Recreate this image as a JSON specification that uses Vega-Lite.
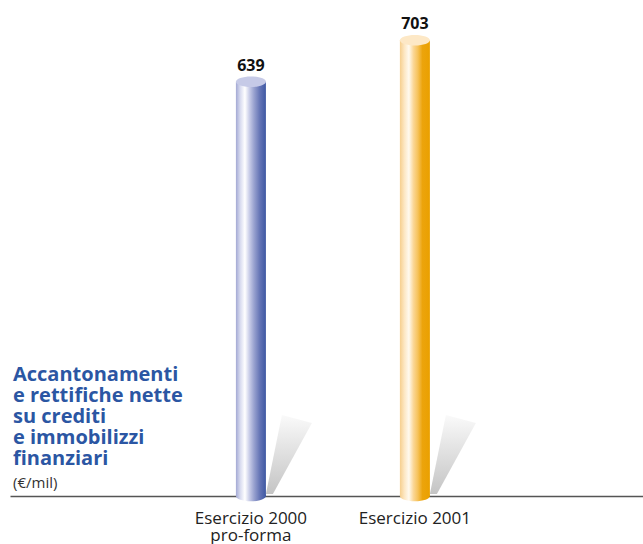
{
  "$schema": "https://vega.github.io/schema/vega-lite/v6.json",
  "width": 633,
  "height": 496,
  "autosize": {"type": "none"},
  "padding": {"left": 10, "top": 0, "right": 0, "bottom": 48},
  "background": "white",
  "config": {"view": {"stroke": null}, "font": "Open Sans"},
  "title": {
    "text": ["Accantonamenti", "e rettifiche nette", "su crediti", "e immobilizzi", "finanziari"],
    "subtitle": "(€/mil)",
    "anchor": "start",
    "frame": "group",
    "orient": "top",
    "font": "Open Sans",
    "fontSize": 20,
    "fontWeight": "bold",
    "color": "#2b56a3",
    "lineHeight": 21,
    "subtitleFont": "Open Sans",
    "subtitleFontSize": 15,
    "subtitleColor": "#333333",
    "subtitleFontWeight": "normal",
    "subtitlePadding": 7,
    "offset": 0,
    "dx": 3,
    "dy": 491
  },
  "data": {
    "values": [
      {"periodo": "Esercizio 2000|pro-forma", "valore": 639},
      {"periodo": "Esercizio 2001", "valore": 703}
    ]
  },
  "encoding": {
    "x": {
      "field": "periodo",
      "type": "nominal",
      "sort": null,
      "scale": {"type": "band", "paddingInner": 0, "paddingOuter": 0.93, "align": 0.521},
      "axis": {
        "title": null,
        "labelExpr": "split(datum.label, '|')",
        "labelAngle": 0,
        "labelFont": "Open Sans",
        "labelFontSize": 17,
        "labelColor": "#222222",
        "labelPadding": 14,
        "labelBaseline": "top",
        "labelLineHeight": 17,
        "ticks": false,
        "grid": false,
        "domainColor": "#555555",
        "domainWidth": 1.5
      }
    },
    "y": {
      "field": "valore",
      "type": "quantitative",
      "scale": {"domain": [0, 765]},
      "axis": null
    }
  },
  "layer": [
    {
      "mark": {
        "type": "point",
        "filled": true,
        "opacity": 1,
        "size": 40000,
        "shape": "M0.15,-0.02 L0.31,-0.81 L0.61,-0.73 L0.22,-0.02 Z",
        "color": {
          "gradient": "linear",
          "x1": 0, "y1": 0, "x2": 0, "y2": 1,
          "stops": [
            {"offset": 0, "color": "#fafafa"},
            {"offset": 1, "color": "#c4c4c4"}
          ]
        }
      },
      "encoding": {"y": {"datum": 0}}
    },
    {
      "transform": [{"filter": "datum.valore == 639"}],
      "layer": [
        {
          "mark": {
            "type": "point",
            "filled": true,
            "opacity": 1,
            "size": 900,
            "shape": "M-1,0 A1,0.35 0 1,1 1,0 A1,0.35 0 1,1 -1,0 Z",
            "color": {
              "gradient": "linear",
              "x1": 0, "y1": 0, "x2": 1, "y2": 0,
              "stops": [
                {"offset": 0, "color": "#a3a9d4"},
                {"offset": 0.15, "color": "#d9dcf0"},
                {"offset": 0.3, "color": "#ffffff"},
                {"offset": 0.45, "color": "#c9cde8"},
                {"offset": 0.6, "color": "#9aa3d0"},
                {"offset": 0.8, "color": "#6474b5"},
                {"offset": 1, "color": "#3e58a3"}
              ]
            }
          },
          "encoding": {"y": {"datum": 0}}
        },
        {
          "mark": {
            "type": "bar",
            "size": 30,
            "color": {
              "gradient": "linear",
              "x1": 0, "y1": 0, "x2": 1, "y2": 0,
              "stops": [
                {"offset": 0, "color": "#a3a9d4"},
                {"offset": 0.15, "color": "#d9dcf0"},
                {"offset": 0.3, "color": "#ffffff"},
                {"offset": 0.45, "color": "#c9cde8"},
                {"offset": 0.6, "color": "#9aa3d0"},
                {"offset": 0.8, "color": "#6474b5"},
                {"offset": 1, "color": "#3e58a3"}
              ]
            }
          }
        }
      ]
    },
    {
      "transform": [{"filter": "datum.valore == 703"}],
      "layer": [
        {
          "mark": {
            "type": "point",
            "filled": true,
            "opacity": 1,
            "size": 900,
            "shape": "M-1,0 A1,0.35 0 1,1 1,0 A1,0.35 0 1,1 -1,0 Z",
            "color": {
              "gradient": "linear",
              "x1": 0, "y1": 0, "x2": 1, "y2": 0,
              "stops": [
                {"offset": 0, "color": "#f6cf8e"},
                {"offset": 0.15, "color": "#fde7c3"},
                {"offset": 0.3, "color": "#fffaf0"},
                {"offset": 0.45, "color": "#fbd797"},
                {"offset": 0.6, "color": "#f6c25a"},
                {"offset": 0.75, "color": "#eca40c"},
                {"offset": 1, "color": "#eaa000"}
              ]
            }
          },
          "encoding": {"y": {"datum": 0}}
        },
        {
          "mark": {
            "type": "bar",
            "size": 30,
            "color": {
              "gradient": "linear",
              "x1": 0, "y1": 0, "x2": 1, "y2": 0,
              "stops": [
                {"offset": 0, "color": "#f6cf8e"},
                {"offset": 0.15, "color": "#fde7c3"},
                {"offset": 0.3, "color": "#fffaf0"},
                {"offset": 0.45, "color": "#fbd797"},
                {"offset": 0.6, "color": "#f6c25a"},
                {"offset": 0.75, "color": "#eca40c"},
                {"offset": 1, "color": "#eaa000"}
              ]
            }
          }
        }
      ]
    },
    {
      "mark": {
        "type": "point",
        "filled": true,
        "opacity": 1,
        "size": 900,
        "shape": "M-1,0 A1,0.35 0 1,1 1,0 A1,0.35 0 1,1 -1,0 Z"
      },
      "encoding": {
        "color": {
          "field": "periodo",
          "type": "nominal",
          "sort": null,
          "scale": {"range": ["#c6cae7", "#fde8c6"]},
          "legend": null
        }
      }
    },
    {
      "mark": {
        "type": "text",
        "baseline": "bottom",
        "dy": -8,
        "font": "Open Sans",
        "fontSize": 16,
        "fontWeight": "bold",
        "color": "#111111"
      },
      "encoding": {"text": {"field": "valore", "type": "quantitative"}}
    }
  ]
}
